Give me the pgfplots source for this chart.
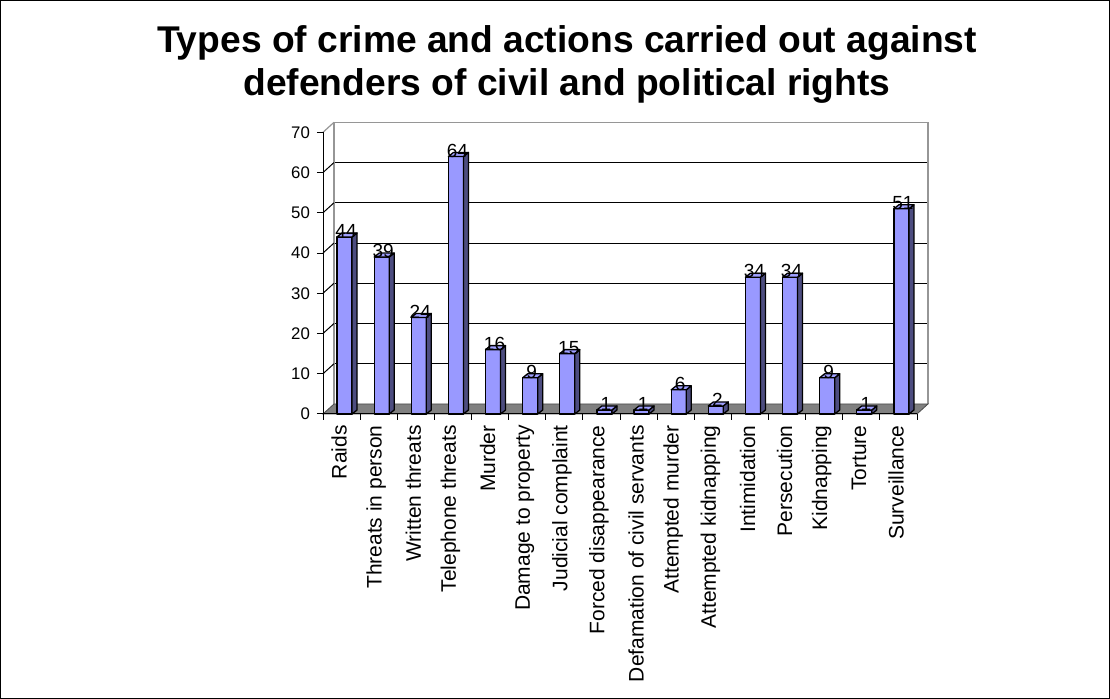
\documentclass[border=0pt]{standalone}
\usepackage{pgfplots}
\pgfplotsset{compat=1.18}
\usepackage{fontspec}
\setmainfont{Liberation Sans}
\definecolor{barfront}{RGB}{153,153,255}
\definecolor{bartop}{RGB}{160,160,255}
\definecolor{barside}{RGB}{77,77,128}
\definecolor{floorgray}{RGB}{128,128,128}
\definecolor{wallgray}{RGB}{150,150,150}

\pgfplotstableread{
idx v
0 44
1 39
2 24
3 64
4 16
5 9
6 15
7 1
8 1
9 6
10 2
11 34
12 34
13 9
14 1
15 51
}\crimedata

% 3D bar drawn at the data point (top-front-centre of the bar)
\pgfdeclareplotmark{bar3d}{%
  \pgfmathsetlengthmacro\bh{\barval*2.012pt}%
  \pgfsetlinewidth{0.65pt}%
  \pgfsetstrokecolor{black}%
  \pgfsetroundjoin
  % front face
  \pgfsetfillcolor{barfront}%
  \pgfpathrectangle{\pgfpoint{-2.25pt}{-\bh}}{\pgfpoint{7.5pt}{\bh}}%
  \pgfusepath{fill,stroke}%
  % side face
  \pgfsetfillcolor{barside}%
  \pgfpathmoveto{\pgfpoint{5.25pt}{-\bh}}%
  \pgfpathlineto{\pgfpointadd{\pgfpoint{7.75pt}{2pt}}{\pgfpoint{0pt}{-\bh}}}%
  \pgfpathlineto{\pgfpoint{7.75pt}{2pt}}%
  \pgfpathlineto{\pgfpoint{5.25pt}{0pt}}%
  \pgfpathclose
  \pgfusepath{fill,stroke}%
  % top face
  \pgfsetfillcolor{bartop}%
  \pgfpathmoveto{\pgfpoint{-2.25pt}{0pt}}%
  \pgfpathlineto{\pgfpoint{0.25pt}{2pt}}%
  \pgfpathlineto{\pgfpoint{7.75pt}{2pt}}%
  \pgfpathlineto{\pgfpoint{5.25pt}{0pt}}%
  \pgfpathclose
  \pgfusepath{fill,stroke}%
}

\begin{document}
\begin{tikzpicture}
% outer frame
\draw[black, line width=0.6pt] (0.3pt,0.3pt) rectangle (554.7pt,349.2pt);

% title
\node[anchor=base, font=\fontsize{18.6}{21.5}\selectfont\bfseries, inner sep=0pt]
  at (283.5pt,323pt) {Types of crime and actions carried out against};
\node[anchor=base, font=\fontsize{18.6}{21.5}\selectfont\bfseries, inner sep=0pt]
  at (283.5pt,301.5pt) {defenders of civil and political rights};

% back wall with gridlines
\begin{axis}[
  at={(167pt,147.5pt)}, anchor=south west,
  x=18.5625pt, y=2.012pt,
  xmin=-0.5, xmax=15.5, ymin=0, ymax=70,
  clip=false,
  xtick=\empty, ytick={10,20,...,60},
  yticklabels={}, major tick length=0pt,
  ymajorgrids, grid style={black, line width=0.5pt},
  axis line style={wallgray, line width=0.6pt},
  separate axis lines, axis x line=none,
  axis y line*=box,
]
\addplot[draw=none] coordinates {(0,0)};
% left wall diagonals
\pgfplotsinvokeforeach{10,20,30,40,50,60}{%
  \draw[black, line width=0.5pt] (axis cs:-0.5,#1) -- ([shift={(-5.5pt,-5pt)}]axis cs:-0.5,#1);
}
\draw[wallgray, line width=0.6pt] (axis cs:-0.5,70) -- ([shift={(-5.5pt,-5pt)}]axis cs:-0.5,70);
\draw[wallgray, line width=0.6pt] (axis cs:-0.5,70) -- (axis cs:15.5,70);
% floor
\filldraw[fill=floorgray, draw=black!70, line width=0.4pt]
  (axis cs:-0.5,0) -- (axis cs:15.5,0)
  -- ([shift={(-5.5pt,-5pt)}]axis cs:15.5,0)
  -- ([shift={(-5.5pt,-5pt)}]axis cs:-0.5,0) -- cycle;
\end{axis}

% front axes with bars
\begin{axis}[
  at={(161.5pt,142.5pt)}, anchor=south west,
  x=18.5625pt, y=2.012pt,
  xmin=-0.5, xmax=15.5, ymin=0, ymax=70,
  clip=false,
  axis x line*=bottom, axis y line*=left,
  axis line style={black, line width=0.5pt},
  tick align=outside,
  major tick length=3pt, minor tick length=3pt,
  ytick={0,10,...,70},
  xtick={0,...,15},
  minor xtick={-0.5,0.5,...,15.5},
  major x tick style={draw=none},
  minor x tick style={black, line width=0.5pt},
  ytick style={black, line width=0.5pt},
  xticklabels={Raids, Threats in person, Written threats, Telephone threats, Murder, Damage to property, Judicial complaint, Forced disappearance, Defamation of civil servants, Attempted murder, Attempted kidnapping, Intimidation, Persecution, Kidnapping, Torture, Surveillance},
  xticklabel style={rotate=90, anchor=east, font=\fontsize{10.5}{12}\selectfont, inner sep=2.5pt, xshift=0pt, yshift=1.2pt},
  yticklabel style={font=\fontsize{8.4}{10}\selectfont},
  /pgf/number format/assume math mode=true,
]
\addplot[only marks, mark=bar3d,
  visualization depends on={\thisrow{v} \as \barval},
  nodes near coords={\pgfmathprintnumber[assume math mode=true]{\pgfplotspointmeta}},
  nodes near coords style={font=\fontsize{9.5}{10}\selectfont, anchor=base, xshift=2.25pt, yshift=-0.3pt, inner sep=0pt, text=black},
] table[x=idx, y=v] {\crimedata};
\end{axis}

\pgfresetboundingbox
\path (0pt,0pt) rectangle (555pt,349.5pt);
\end{tikzpicture}
\end{document}
